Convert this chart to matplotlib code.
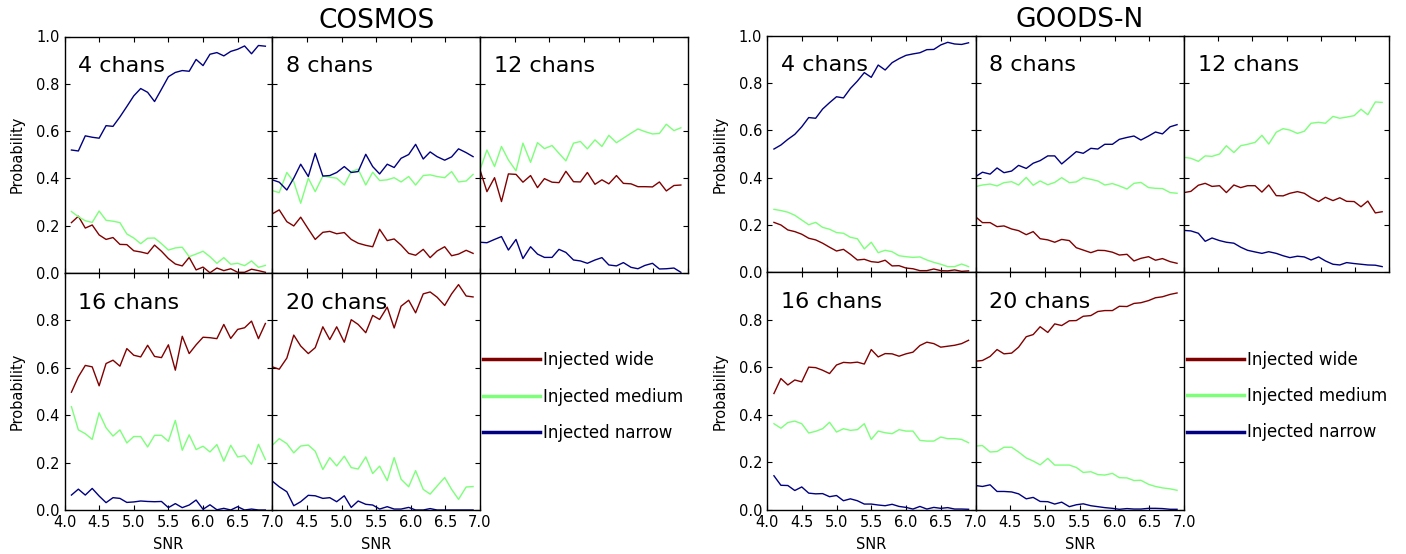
import matplotlib
matplotlib.use("Agg")
import matplotlib.pyplot as plt
from matplotlib.lines import Line2D

# SNR bin positions: first column starts at 4.1, the others at 4.0
snr_first = [4.1, 4.2, 4.3, 4.4, 4.5, 4.6, 4.7, 4.8, 4.9, 5.0, 5.1, 5.2, 5.3, 5.4, 5.5,
             5.6, 5.7, 5.8, 5.9, 6.0, 6.1, 6.2, 6.3, 6.4, 6.5, 6.6, 6.7, 6.8, 6.9]
snr_other = [4.00, 4.10, 4.21, 4.31, 4.41, 4.52, 4.62, 4.73, 4.83, 4.93, 5.04, 5.14, 5.24, 5.35, 5.45,
             5.55, 5.66, 5.76, 5.86, 5.97, 6.07, 6.18, 6.28, 6.38, 6.49, 6.59, 6.69, 6.80, 6.90]

channels = [4, 8, 12, 16, 20]
series_names = ["Injected wide", "Injected medium", "Injected narrow"]
field_names = ["COSMOS", "GOODS-N"]
snr_ticks = [4.0, 4.5, 5.0, 5.5, 6.0, 6.5, 7.0]

# ---------------- COSMOS ----------------
cosmos_4_wide = [0.213, 0.240, 0.190, 0.203, 0.161, 0.142, 0.150, 0.121, 0.120, 0.094, 0.089, 0.082, 0.118, 0.092, 0.061,
                 0.038, 0.030, 0.066, 0.013, 0.025, 0.001, 0.021, 0.010, 0.018, 0.003, 0.003, 0.016, 0.010, 0.003]
cosmos_4_medium = [0.260, 0.238, 0.221, 0.214, 0.262, 0.223, 0.219, 0.213, 0.165, 0.148, 0.124, 0.147, 0.148, 0.124, 0.097,
                   0.106, 0.109, 0.069, 0.080, 0.092, 0.069, 0.041, 0.065, 0.037, 0.041, 0.031, 0.051, 0.024, 0.032]
cosmos_4_narrow = [0.520, 0.516, 0.580, 0.574, 0.570, 0.623, 0.620, 0.660, 0.704, 0.749, 0.780, 0.764, 0.725, 0.777, 0.830,
                   0.848, 0.856, 0.853, 0.903, 0.877, 0.925, 0.932, 0.918, 0.937, 0.946, 0.960, 0.927, 0.962, 0.959]

cosmos_8_wide = [0.250, 0.267, 0.217, 0.199, 0.236, 0.186, 0.142, 0.172, 0.176, 0.166, 0.171, 0.142, 0.126, 0.117, 0.111,
                 0.185, 0.137, 0.144, 0.118, 0.083, 0.075, 0.100, 0.065, 0.093, 0.111, 0.073, 0.080, 0.096, 0.083]
cosmos_8_medium = [0.348, 0.340, 0.425, 0.386, 0.295, 0.401, 0.344, 0.410, 0.405, 0.401, 0.372, 0.429, 0.439, 0.372, 0.426,
                   0.391, 0.394, 0.403, 0.385, 0.408, 0.372, 0.412, 0.415, 0.408, 0.403, 0.429, 0.385, 0.389, 0.417]
cosmos_8_narrow = [0.394, 0.384, 0.351, 0.401, 0.460, 0.408, 0.506, 0.410, 0.412, 0.425, 0.450, 0.425, 0.429, 0.502, 0.450,
                   0.419, 0.460, 0.446, 0.485, 0.501, 0.544, 0.482, 0.512, 0.492, 0.477, 0.491, 0.525, 0.509, 0.492]

cosmos_12_wide = [0.436, 0.344, 0.403, 0.302, 0.419, 0.417, 0.384, 0.412, 0.361, 0.399, 0.384, 0.382, 0.430, 0.386, 0.385,
                  0.425, 0.375, 0.394, 0.377, 0.412, 0.379, 0.377, 0.365, 0.365, 0.364, 0.385, 0.347, 0.370, 0.372]
cosmos_12_medium = [0.436, 0.520, 0.450, 0.535, 0.478, 0.432, 0.549, 0.468, 0.551, 0.526, 0.539, 0.506, 0.474, 0.549, 0.556,
                    0.525, 0.563, 0.535, 0.582, 0.551, 0.570, 0.591, 0.609, 0.598, 0.588, 0.590, 0.629, 0.602, 0.614]
cosmos_12_narrow = [0.130, 0.128, 0.142, 0.154, 0.097, 0.142, 0.061, 0.111, 0.080, 0.066, 0.066, 0.100, 0.087, 0.055, 0.051,
                    0.041, 0.055, 0.065, 0.034, 0.030, 0.044, 0.024, 0.018, 0.032, 0.041, 0.017, 0.018, 0.021, 0.003]

cosmos_16_wide = [0.497, 0.562, 0.610, 0.604, 0.524, 0.618, 0.632, 0.607, 0.681, 0.653, 0.646, 0.695, 0.648, 0.643, 0.697,
                  0.590, 0.733, 0.660, 0.697, 0.729, 0.727, 0.723, 0.783, 0.724, 0.762, 0.769, 0.797, 0.723, 0.787]
cosmos_16_medium = [0.436, 0.338, 0.322, 0.298, 0.410, 0.347, 0.312, 0.338, 0.283, 0.310, 0.310, 0.266, 0.315, 0.315, 0.290,
                    0.378, 0.252, 0.317, 0.255, 0.269, 0.245, 0.276, 0.206, 0.273, 0.224, 0.229, 0.193, 0.277, 0.213]
cosmos_16_narrow = [0.063, 0.088, 0.063, 0.091, 0.059, 0.031, 0.052, 0.049, 0.032, 0.034, 0.038, 0.036, 0.035, 0.036, 0.010,
                    0.027, 0.010, 0.021, 0.042, 0.003, 0.022, 0.001, 0.007, 0.000, 0.014, 0.000, 0.004, 0.000, 0.000]

cosmos_20_wide = [0.604, 0.594, 0.641, 0.738, 0.692, 0.660, 0.685, 0.773, 0.719, 0.773, 0.708, 0.803, 0.783, 0.748, 0.821,
                  0.804, 0.856, 0.768, 0.860, 0.885, 0.832, 0.912, 0.920, 0.898, 0.863, 0.912, 0.951, 0.903, 0.899]
cosmos_20_medium = [0.273, 0.301, 0.280, 0.241, 0.270, 0.274, 0.248, 0.171, 0.221, 0.186, 0.227, 0.179, 0.173, 0.224, 0.154,
                    0.185, 0.124, 0.221, 0.130, 0.098, 0.166, 0.087, 0.067, 0.101, 0.137, 0.087, 0.045, 0.097, 0.099]
cosmos_20_narrow = [0.122, 0.098, 0.077, 0.018, 0.035, 0.062, 0.060, 0.049, 0.052, 0.035, 0.060, 0.011, 0.038, 0.024, 0.021,
                    0.004, 0.014, 0.004, 0.004, 0.011, 0.000, 0.000, 0.006, 0.000, 0.000, 0.000, 0.000, 0.000, 0.000]

# ---------------- GOODS-N ----------------
goodsn_4_wide = [0.211, 0.200, 0.179, 0.172, 0.161, 0.144, 0.137, 0.123, 0.106, 0.090, 0.097, 0.076, 0.052, 0.055, 0.045,
                 0.042, 0.051, 0.027, 0.028, 0.018, 0.015, 0.007, 0.007, 0.014, 0.007, 0.006, 0.010, 0.004, 0.006]
goodsn_4_medium = [0.266, 0.261, 0.254, 0.241, 0.221, 0.201, 0.211, 0.190, 0.182, 0.168, 0.165, 0.148, 0.142, 0.099, 0.127,
                   0.083, 0.093, 0.087, 0.070, 0.066, 0.063, 0.065, 0.052, 0.042, 0.034, 0.024, 0.024, 0.035, 0.024]
goodsn_4_narrow = [0.521, 0.538, 0.562, 0.583, 0.615, 0.654, 0.651, 0.690, 0.717, 0.742, 0.737, 0.777, 0.808, 0.844, 0.824,
                   0.876, 0.855, 0.886, 0.903, 0.917, 0.923, 0.928, 0.941, 0.942, 0.961, 0.972, 0.965, 0.963, 0.970]

goodsn_8_wide = [0.235, 0.210, 0.210, 0.193, 0.196, 0.183, 0.176, 0.159, 0.172, 0.142, 0.137, 0.127, 0.139, 0.134, 0.104,
                 0.094, 0.083, 0.093, 0.092, 0.085, 0.073, 0.076, 0.048, 0.059, 0.066, 0.051, 0.058, 0.045, 0.038]
goodsn_8_medium = [0.362, 0.369, 0.373, 0.365, 0.379, 0.383, 0.369, 0.401, 0.368, 0.386, 0.370, 0.380, 0.400, 0.379, 0.382,
                   0.400, 0.393, 0.386, 0.369, 0.375, 0.365, 0.352, 0.376, 0.380, 0.358, 0.355, 0.354, 0.337, 0.334]
goodsn_8_narrow = [0.404, 0.423, 0.415, 0.441, 0.421, 0.428, 0.452, 0.439, 0.461, 0.472, 0.492, 0.492, 0.458, 0.485, 0.510,
                   0.503, 0.524, 0.521, 0.541, 0.541, 0.562, 0.570, 0.576, 0.559, 0.576, 0.593, 0.585, 0.615, 0.624]

goodsn_12_wide = [0.337, 0.342, 0.368, 0.376, 0.363, 0.366, 0.337, 0.369, 0.358, 0.366, 0.366, 0.339, 0.369, 0.324, 0.323,
                  0.334, 0.341, 0.334, 0.315, 0.299, 0.317, 0.303, 0.315, 0.300, 0.299, 0.277, 0.301, 0.251, 0.256]
goodsn_12_medium = [0.486, 0.482, 0.469, 0.492, 0.490, 0.500, 0.535, 0.506, 0.535, 0.541, 0.549, 0.579, 0.542, 0.592, 0.607,
                    0.601, 0.587, 0.596, 0.630, 0.634, 0.630, 0.659, 0.651, 0.656, 0.662, 0.689, 0.666, 0.720, 0.718]
goodsn_12_narrow = [0.177, 0.175, 0.165, 0.131, 0.145, 0.134, 0.127, 0.123, 0.106, 0.093, 0.086, 0.080, 0.087, 0.080, 0.070,
                    0.062, 0.068, 0.065, 0.052, 0.065, 0.048, 0.034, 0.031, 0.041, 0.037, 0.034, 0.031, 0.030, 0.024]

goodsn_16_wide = [0.490, 0.553, 0.526, 0.547, 0.539, 0.601, 0.599, 0.588, 0.574, 0.610, 0.621, 0.619, 0.622, 0.614, 0.675,
                  0.644, 0.658, 0.657, 0.647, 0.657, 0.664, 0.692, 0.706, 0.700, 0.685, 0.689, 0.693, 0.700, 0.714]
goodsn_16_medium = [0.363, 0.344, 0.368, 0.374, 0.363, 0.324, 0.331, 0.342, 0.369, 0.328, 0.342, 0.335, 0.338, 0.363, 0.297,
                    0.332, 0.325, 0.321, 0.338, 0.332, 0.332, 0.293, 0.290, 0.290, 0.307, 0.300, 0.300, 0.297, 0.283]
goodsn_16_narrow = [0.144, 0.104, 0.103, 0.082, 0.097, 0.071, 0.068, 0.069, 0.056, 0.061, 0.039, 0.047, 0.039, 0.025, 0.025,
                    0.021, 0.018, 0.024, 0.015, 0.011, 0.004, 0.015, 0.004, 0.011, 0.007, 0.010, 0.004, 0.004, 0.003]

goodsn_20_wide = [0.626, 0.629, 0.646, 0.675, 0.657, 0.660, 0.685, 0.729, 0.738, 0.771, 0.747, 0.783, 0.776, 0.796, 0.797,
                  0.815, 0.818, 0.835, 0.839, 0.839, 0.857, 0.856, 0.869, 0.872, 0.881, 0.893, 0.897, 0.907, 0.913]
goodsn_20_medium = [0.269, 0.271, 0.244, 0.246, 0.264, 0.264, 0.244, 0.219, 0.206, 0.190, 0.217, 0.189, 0.189, 0.189, 0.179,
                    0.158, 0.161, 0.149, 0.147, 0.154, 0.136, 0.135, 0.124, 0.125, 0.108, 0.099, 0.093, 0.089, 0.083]
goodsn_20_narrow = [0.103, 0.099, 0.106, 0.078, 0.078, 0.076, 0.068, 0.047, 0.053, 0.036, 0.035, 0.025, 0.033, 0.014, 0.022,
                    0.026, 0.018, 0.014, 0.010, 0.007, 0.003, 0.006, 0.004, 0.004, 0.007, 0.007, 0.006, 0.003, 0.003]

fields = {
    "COSMOS": [
        (cosmos_4_wide, cosmos_4_medium, cosmos_4_narrow),
        (cosmos_8_wide, cosmos_8_medium, cosmos_8_narrow),
        (cosmos_12_wide, cosmos_12_medium, cosmos_12_narrow),
        (cosmos_16_wide, cosmos_16_medium, cosmos_16_narrow),
        (cosmos_20_wide, cosmos_20_medium, cosmos_20_narrow),
    ],
    "GOODS-N": [
        (goodsn_4_wide, goodsn_4_medium, goodsn_4_narrow),
        (goodsn_8_wide, goodsn_8_medium, goodsn_8_narrow),
        (goodsn_12_wide, goodsn_12_medium, goodsn_12_narrow),
        (goodsn_16_wide, goodsn_16_medium, goodsn_16_narrow),
        (goodsn_20_wide, goodsn_20_medium, goodsn_20_narrow),
    ],
}

# jet colormap ends / middle
jet = plt.get_cmap("jet")
colors = [jet(1.0), jet(0.5), jet(0.0)]

plt.rcParams.update({
    "font.family": "DejaVu Sans",
    "xtick.direction": "in",
    "ytick.direction": "in",
    "xtick.top": True,
    "ytick.right": True,
    "xtick.major.size": 3.5,
    "ytick.major.size": 3.5,
    "xtick.labelsize": 10.5,
    "ytick.labelsize": 10.5,
    "axes.linewidth": 1.0,
})

W, H = 1406, 554
fig = plt.figure(figsize=(W / 100, H / 100), dpi=100)
fig.patch.set_facecolor("white")

# pixel layouts of the two 2x3 panel blocks
layouts = {
    "COSMOS": dict(cols=[64.5, 272.3, 480.0, 687.8], rows=[36.5, 273.0, 510.0]),
    "GOODS-N": dict(cols=[767.0, 975.5, 1184.0, 1389.0], rows=[35.7, 272.3, 510.0]),
}


def px_axes(x0, x1, y0, y1):
    return fig.add_axes([x0 / W, 1 - y1 / H, (x1 - x0) / W, (y1 - y0) / H])


for field in field_names:
    cols = layouts[field]["cols"]
    rows = layouts[field]["rows"]
    for k, nchan in enumerate(channels):
        r, c = divmod(k, 3)
        ax = px_axes(cols[c], cols[c + 1], rows[r], rows[r + 1])
        x = snr_first if c == 0 else snr_other
        for vals, col in zip(fields[field][k], colors):
            ax.plot(x, vals, color=col, lw=1.0)
        ax.set_xlim(4.0, 7.0)
        ax.set_ylim(0.0, 1.0)
        ax.set_xticks(snr_ticks)
        if r == 0:
            ax.set_yticks([0.0, 0.2, 0.4, 0.6, 0.8, 1.0])
            ax.tick_params(labelbottom=False)
        else:
            ax.set_yticks([0.0, 0.2, 0.4, 0.6, 0.8])
            labels = [f"{t:.1f}" for t in snr_ticks]
            if c > 0:
                labels[0] = ""
            ax.set_xticklabels(labels)
            ax.set_xlabel("SNR", fontsize=10.5, labelpad=5)
        if c == 0:
            ax.set_ylabel("Probability", fontsize=10.5, labelpad=8)
        else:
            ax.tick_params(labelleft=False)
        ax.text(0.067, 0.875, f"{nchan} chans", transform=ax.transAxes,
                fontsize=16, ha="left", va="center")
        if k == 1:
            ax.set_title(field, fontsize=19, pad=6)

    # legend in the empty sixth slot
    lax = px_axes(cols[2], cols[3], rows[1], rows[2])
    lax.axis("off")
    handles = [Line2D([], [], color=col, lw=2.5) for col in colors]
    lax.legend(handles, series_names, loc="upper left", bbox_to_anchor=(0.0, 0.684),
               frameon=False, fontsize=12, handlelength=3.4, handletextpad=0.2,
               labelspacing=1.1, borderaxespad=0.0, borderpad=0.2)

fig.savefig("out.png", dpi=100, facecolor="white")
